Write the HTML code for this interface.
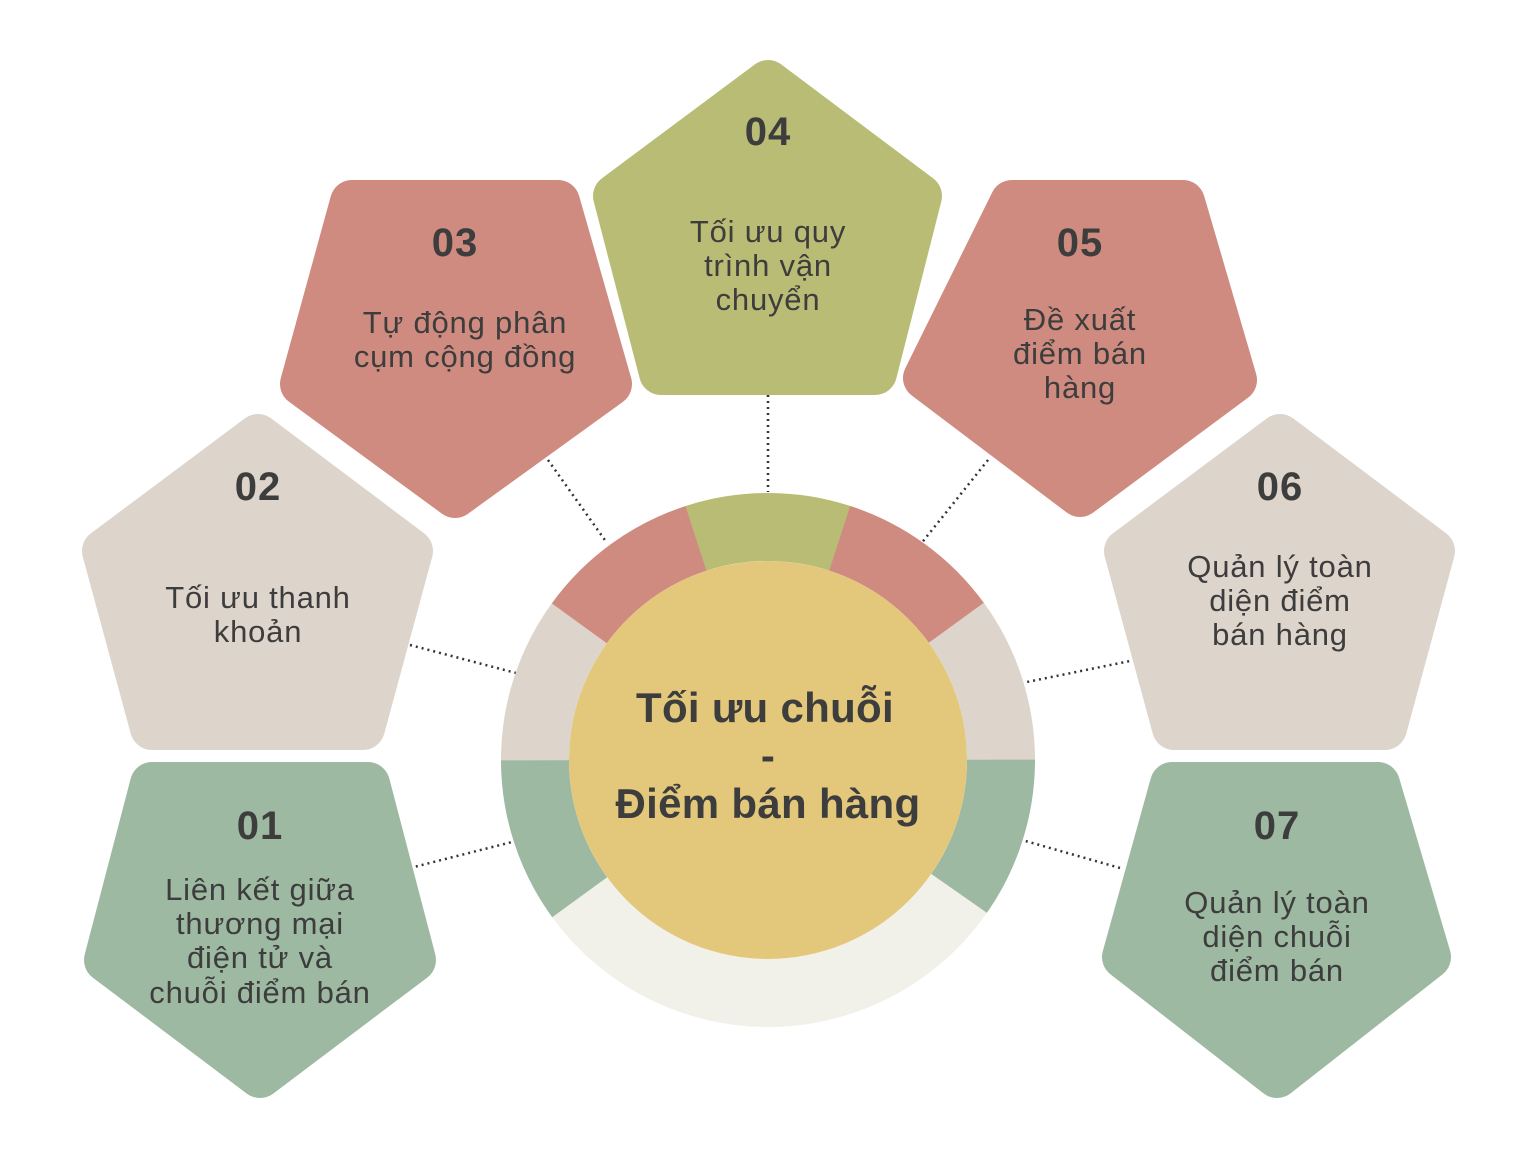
<!DOCTYPE html>
<html><head><meta charset="utf-8"><style>
html,body{margin:0;padding:0;background:#fff;}
svg{display:block;}
text{font-family:"Liberation Sans",sans-serif;fill:#3d3d3d;text-anchor:middle;}
.n{font-size:40px;font-weight:bold;letter-spacing:1px;}
.l{font-size:31px;letter-spacing:0.8px;}
.c{font-size:42px;font-weight:bold;letter-spacing:0.3px;}
.p{stroke-width:44;stroke-linejoin:round;}
</style></head><body>
<svg width="1536" height="1152" viewBox="0 0 1536 1152" xmlns="http://www.w3.org/2000/svg">
<g stroke="#333" stroke-width="2.5" stroke-dasharray="2 4" fill="none">
<line x1="768" y1="395" x2="768" y2="492"/>
<line x1="548" y1="460" x2="607" y2="543"/>
<line x1="988" y1="460" x2="920" y2="545"/>
<line x1="410" y1="645" x2="516" y2="673"/>
<line x1="1135" y1="660" x2="1022" y2="683"/>
<line x1="410" y1="868" x2="512" y2="842"/>
<line x1="1120" y1="868" x2="1022" y2="840"/>
</g>
<g fill="none" stroke-width="68">
<circle cx="768" cy="760" r="233" pathLength="360" stroke="#b9bc75" stroke-dasharray="36 324" transform="rotate(-108 768 760)"/>
<circle cx="768" cy="760" r="233" pathLength="360" stroke="#cf8b7f" stroke-dasharray="36 324" transform="rotate(-72 768 760)"/>
<circle cx="768" cy="760" r="233" pathLength="360" stroke="#ddd4cb" stroke-dasharray="36 324" transform="rotate(-36 768 760)"/>
<circle cx="768" cy="760" r="233" pathLength="360" stroke="#9eb9a2" stroke-dasharray="35 325" transform="rotate(0 768 760)"/>
<circle cx="768" cy="760" r="233" pathLength="360" stroke="#f1f1ea" stroke-dasharray="109 251" transform="rotate(35 768 760)"/>
<circle cx="768" cy="760" r="233" pathLength="360" stroke="#9eb9a2" stroke-dasharray="36 324" transform="rotate(144 768 760)"/>
<circle cx="768" cy="760" r="233" pathLength="360" stroke="#ddd4cb" stroke-dasharray="36 324" transform="rotate(180 768 760)"/>
<circle cx="768" cy="760" r="233" pathLength="360" stroke="#cf8b7f" stroke-dasharray="36 324" transform="rotate(216 768 760)"/>
</g>
<circle cx="768" cy="760" r="199" fill="#e3c87b"/>
<text class="c" x="765" y="722">Tối ưu chuỗi</text>
<text class="c" x="768" y="770">-</text>
<text class="c" x="768" y="818">Điểm bán hàng</text>

<polygon class="p" fill="#b9bc75" stroke="#b9bc75" points="768,82 920,196 875,373 661,373 615,196"/>
<polygon class="p" fill="#cf8b7f" stroke="#cf8b7f" points="352,202 558,202 610,384 455,496 302,384"/>
<polygon class="p" fill="#cf8b7f" stroke="#cf8b7f" points="1012,202 1183,202 1235,380 1080,495 925,378"/>
<polygon class="p" fill="#ddd4cb" stroke="#ddd4cb" points="258,436 411,551 363,728 152,728 104,551"/>
<polygon class="p" fill="#ddd4cb" stroke="#ddd4cb" points="1280,436 1433,551 1385,728 1174,728 1126,551"/>
<polygon class="p" fill="#9eb9a2" stroke="#9eb9a2" points="152,784 368,784 414,960 260,1076 106,960"/>
<polygon class="p" fill="#9eb9a2" stroke="#9eb9a2" points="1172,784 1378,784 1429,957 1277,1076 1124,957"/>

<text class="n" x="768" y="145">04</text>
<text class="l" x="768" y="242">Tối ưu quy</text>
<text class="l" x="768" y="276">trình vận</text>
<text class="l" x="768" y="310">chuyển</text>

<text class="n" x="455" y="256">03</text>
<text class="l" x="465" y="333">Tự động phân</text>
<text class="l" x="465" y="367">cụm cộng đồng</text>

<text class="n" x="1080" y="256">05</text>
<text class="l" x="1080" y="330">Đề xuất</text>
<text class="l" x="1080" y="364">điểm bán</text>
<text class="l" x="1080" y="398">hàng</text>

<text class="n" x="258" y="500">02</text>
<text class="l" x="258" y="608">Tối ưu thanh</text>
<text class="l" x="258" y="642">khoản</text>

<text class="n" x="1280" y="500">06</text>
<text class="l" x="1280" y="577">Quản lý toàn</text>
<text class="l" x="1280" y="611">diện điểm</text>
<text class="l" x="1280" y="645">bán hàng</text>

<text class="n" x="260" y="839">01</text>
<text class="l" x="260" y="900">Liên kết giữa</text>
<text class="l" x="260" y="934">thương mại</text>
<text class="l" x="260" y="968">điện tử và</text>
<text class="l" x="260" y="1003">chuỗi điểm bán</text>

<text class="n" x="1277" y="839">07</text>
<text class="l" x="1277" y="913">Quản lý toàn</text>
<text class="l" x="1277" y="947">diện chuỗi</text>
<text class="l" x="1277" y="981">điểm bán</text>
</svg>
</body></html>
